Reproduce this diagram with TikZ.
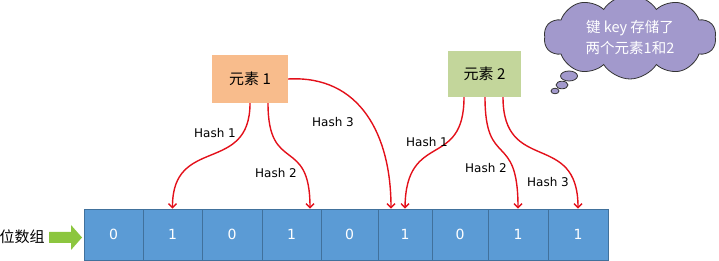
\documentclass[tikz,border=0pt]{standalone}
\usepackage{fontspec}
\setmainfont{DejaVu Sans}
\newfontfamily\cjk{Noto Sans CJK SC}
\usetikzlibrary{arrows.meta,shapes.symbols,calc}
\definecolor{cellblue}{HTML}{5B9BD5}
\definecolor{celledge}{HTML}{41719C}
\definecolor{peach}{HTML}{F8BC8C}
\definecolor{olivegreen}{HTML}{C3D69B}
\definecolor{lavender}{HTML}{A299CC}
\definecolor{arrowgreen}{HTML}{8CC63F}
\definecolor{hashred}{HTML}{E3101A}
\begin{document}
\begin{tikzpicture}[x=1pt,y=-1pt,
  cellbox/.style={draw=celledge,line width=0.8pt,fill=cellblue,minimum height=51pt,inner sep=0pt,text=white,font=\fontsize{14}{16}\selectfont},
  elembox/.style={inner sep=0pt,font=\cjk\fontsize{15}{17}\selectfont},
  hashlbl/.style={font=\fontsize{12}{14}\selectfont,inner sep=1pt},
  hasharrow/.style={draw=hashred,line width=1.4pt,-{Straight Barb[length=4pt,width=8pt]}},
  bubble/.style={draw=black!80,line width=0.8pt,fill=lavender}]
\useasboundingbox (0,0) rectangle (719,261);
% array cells
\node[cellbox,minimum width=59pt] (c1) at (113.5,234.5) {0};
\node[cellbox,minimum width=59pt] (c2) at (172.5,234.5) {1};
\node[cellbox,minimum width=60pt] (c3) at (232,234.5) {0};
\node[cellbox,minimum width=59pt] (c4) at (291.5,234.5) {1};
\node[cellbox,minimum width=57pt] (c5) at (349.5,234.5) {0};
\node[cellbox,minimum width=54pt] (c6) at (405,234.5) {1};
\node[cellbox,minimum width=56pt] (c7) at (460,234.5) {0};
\node[cellbox,minimum width=60pt] (c8) at (518,234.5) {1};
\node[cellbox,minimum width=60pt] (c9) at (578,234.5) {1};
% label and green arrow
\node[font=\cjk\fontsize{15}{17}\selectfont,inner sep=0pt] (lbl) at (22,237) {位数组};
\fill[arrowgreen] (49,232) -- (71,232) -- (71,225) -- (82,237.5) -- (71,250) -- (71,243) -- (49,243) -- cycle;
% elements
\node[elembox,fill=peach,minimum width=76pt,minimum height=48pt] (e1) at (250,79) {元素 1};
\node[elembox,fill=olivegreen,minimum width=73pt,minimum height=46pt] (e2) at (484.5,74) {元素 2};
% target points
\coordinate (t4) at ($(c4.north)+(18.5,0)$);
\coordinate (t6) at ($(c6.north)+(-14,0)$);
% element 1 hashes
\draw[hasharrow] ([xshift=0pt]e1.south) .. controls (250,175) and (172,135) .. (c2.north);
\draw[hasharrow] ([xshift=18pt]e1.south) .. controls (268,175) and (310,135) .. (t4);
\draw[hasharrow] (e1.east) .. controls (360,75) and (391,135) .. (t6);
\node[hashlbl] (h11) at (215,133) {Hash 1};
\node[hashlbl] (h12) at (276,173) {Hash 2};
\node[hashlbl] (h13) at (333,122) {Hash 3};
% element 2 hashes
\draw[hasharrow] ([xshift=-20.5pt]e2.south) .. controls (464,170) and (406,130) .. (c6.north);
\draw[hasharrow] ([xshift=0.5pt]e2.south) .. controls (485,170) and (518,130) .. (c8.north);
\draw[hasharrow] ([xshift=18.5pt]e2.south) .. controls (503,175) and (578,130) .. (c9.north);
\node[hashlbl] (h21) at (427,142) {Hash 1};
\node[hashlbl] (h22) at (486,168) {Hash 2};
\node[hashlbl] (h23) at (548,182) {Hash 3};
% cloud
\node[cloud,cloud puffs=10,cloud puff arc=115,aspect=2.4,draw=black!80,line width=0.8pt,fill=lavender,
  minimum width=172pt,minimum height=84pt,inner sep=0pt,text=white,align=center,
  font=\cjk\fontsize{14.5}{21}\selectfont] (cl) at (630,37) {键 key 存储了\\两个元素1和2};
\draw[bubble] (569,76) ellipse (8.5pt and 5pt);
\draw[bubble] (562,85) ellipse (6pt and 3.8pt);
\draw[bubble] (555,91) ellipse (4pt and 2.8pt);
\end{tikzpicture}
\end{document}
